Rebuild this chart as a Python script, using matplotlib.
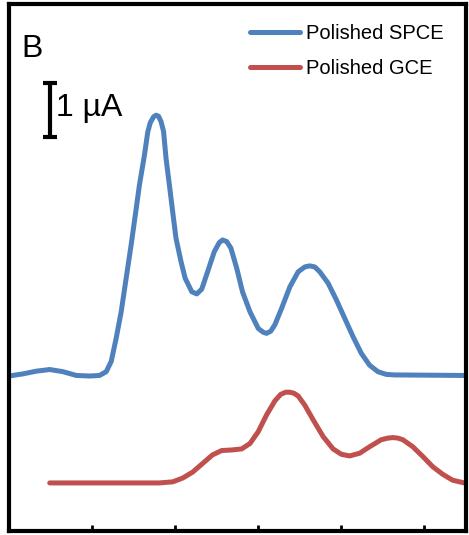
import numpy as np
import matplotlib
matplotlib.use("Agg")
import matplotlib.pyplot as plt

# potential axis in tick units (ticks at 1..5), current in uA
spce_x = [0.00, 0.17, 0.33, 0.49, 0.65, 0.81, 0.97, 1.09, 1.17, 1.23, 1.29, 1.35,
          1.41, 1.47, 1.52, 1.57, 1.63, 1.67, 1.70, 1.74, 1.77, 1.80, 1.83, 1.86,
          1.89, 1.93, 1.97, 2.01, 2.07, 2.12, 2.20, 2.26, 2.32, 2.39, 2.47, 2.53,
          2.57, 2.62, 2.67, 2.74, 2.81, 2.90, 3.00, 3.06, 3.10, 3.15, 3.20, 3.28,
          3.38, 3.48, 3.56, 3.62, 3.68, 3.74, 3.84, 3.94, 4.04, 4.14, 4.24, 4.34,
          4.44, 4.54, 4.64, 5.50]
spce_y = [2.87, 2.91, 2.96, 2.99, 2.95, 2.88, 2.87, 2.88, 2.95, 3.14, 3.57, 4.06,
          4.68, 5.30, 5.85, 6.41, 6.96, 7.39, 7.56, 7.67, 7.70, 7.68, 7.58, 7.40,
          6.90, 6.41, 5.91, 5.42, 4.99, 4.68, 4.43, 4.39, 4.48, 4.80, 5.17, 5.34,
          5.39, 5.36, 5.24, 4.87, 4.43, 4.06, 3.75, 3.68, 3.66, 3.70, 3.82, 4.12,
          4.52, 4.80, 4.89, 4.91, 4.89, 4.80, 4.59, 4.28, 3.94, 3.60, 3.29, 3.07,
          2.95, 2.90, 2.89, 2.88]

gce_x = [0.49, 1.81, 1.97, 2.09, 2.21, 2.33, 2.45, 2.56, 2.68, 2.80, 2.90, 3.00,
         3.10, 3.20, 3.27, 3.33, 3.38, 3.43, 3.48, 3.56, 3.66, 3.78, 3.90, 4.00,
         4.10, 4.22, 4.34, 4.48, 4.56, 4.62, 4.68, 4.74, 4.86, 4.98, 5.10, 5.22,
         5.34, 5.48]
gce_y = [0.89, 0.89, 0.91, 0.98, 1.09, 1.25, 1.41, 1.49, 1.50, 1.52, 1.62, 1.84,
         2.15, 2.41, 2.53, 2.57, 2.57, 2.55, 2.50, 2.33, 2.06, 1.75, 1.52, 1.42,
         1.39, 1.44, 1.56, 1.69, 1.72, 1.73, 1.72, 1.69, 1.56, 1.38, 1.19, 1.05,
         0.94, 0.89]

labels = ['Polished SPCE', 'Polished GCE']
colors = ['#4F81BD', '#C0504D']

plt.rcParams['font.family'] = ['Liberation Sans', 'DejaVu Sans']

fig = plt.figure(figsize=(4.69, 5.35), dpi=100)
ax = fig.add_axes([0.0192, 0.0075, 0.9744, 0.9841])

ax.plot(spce_x, spce_y, color=colors[0], lw=3.6, label=labels[0],
        solid_joinstyle='round', solid_capstyle='round')
ax.plot(gce_x, gce_y, color=colors[1], lw=3.6, label=labels[1],
        solid_joinstyle='round', solid_capstyle='round')

# scale bar of 1 uA
ax.errorbar([0.49], [7.80], yerr=[0.5], color='black', elinewidth=3,
            capsize=5, capthick=3)
ax.text(0.57, 7.83, '1 µA', fontsize=23, ha='left', va='center')
ax.text(0.15, 8.93, 'B', fontsize=23, ha='left', va='center')

ax.set_xlim(0, 5.5)
ax.set_ylim(0, 9.75)
ax.set_xticks([1, 2, 3, 4, 5])
ax.set_xticklabels([])
ax.set_yticks([])
ax.tick_params(axis='x', direction='in', length=4.5, width=2)
for s in ax.spines.values():
    s.set_linewidth(3)

ax.legend(loc='upper right', bbox_to_anchor=(0.99, 0.997), frameon=False,
          fontsize=14.5, handlelength=2.45, handletextpad=0.3, labelspacing=0.8)

fig.savefig('out.png', dpi=100)
